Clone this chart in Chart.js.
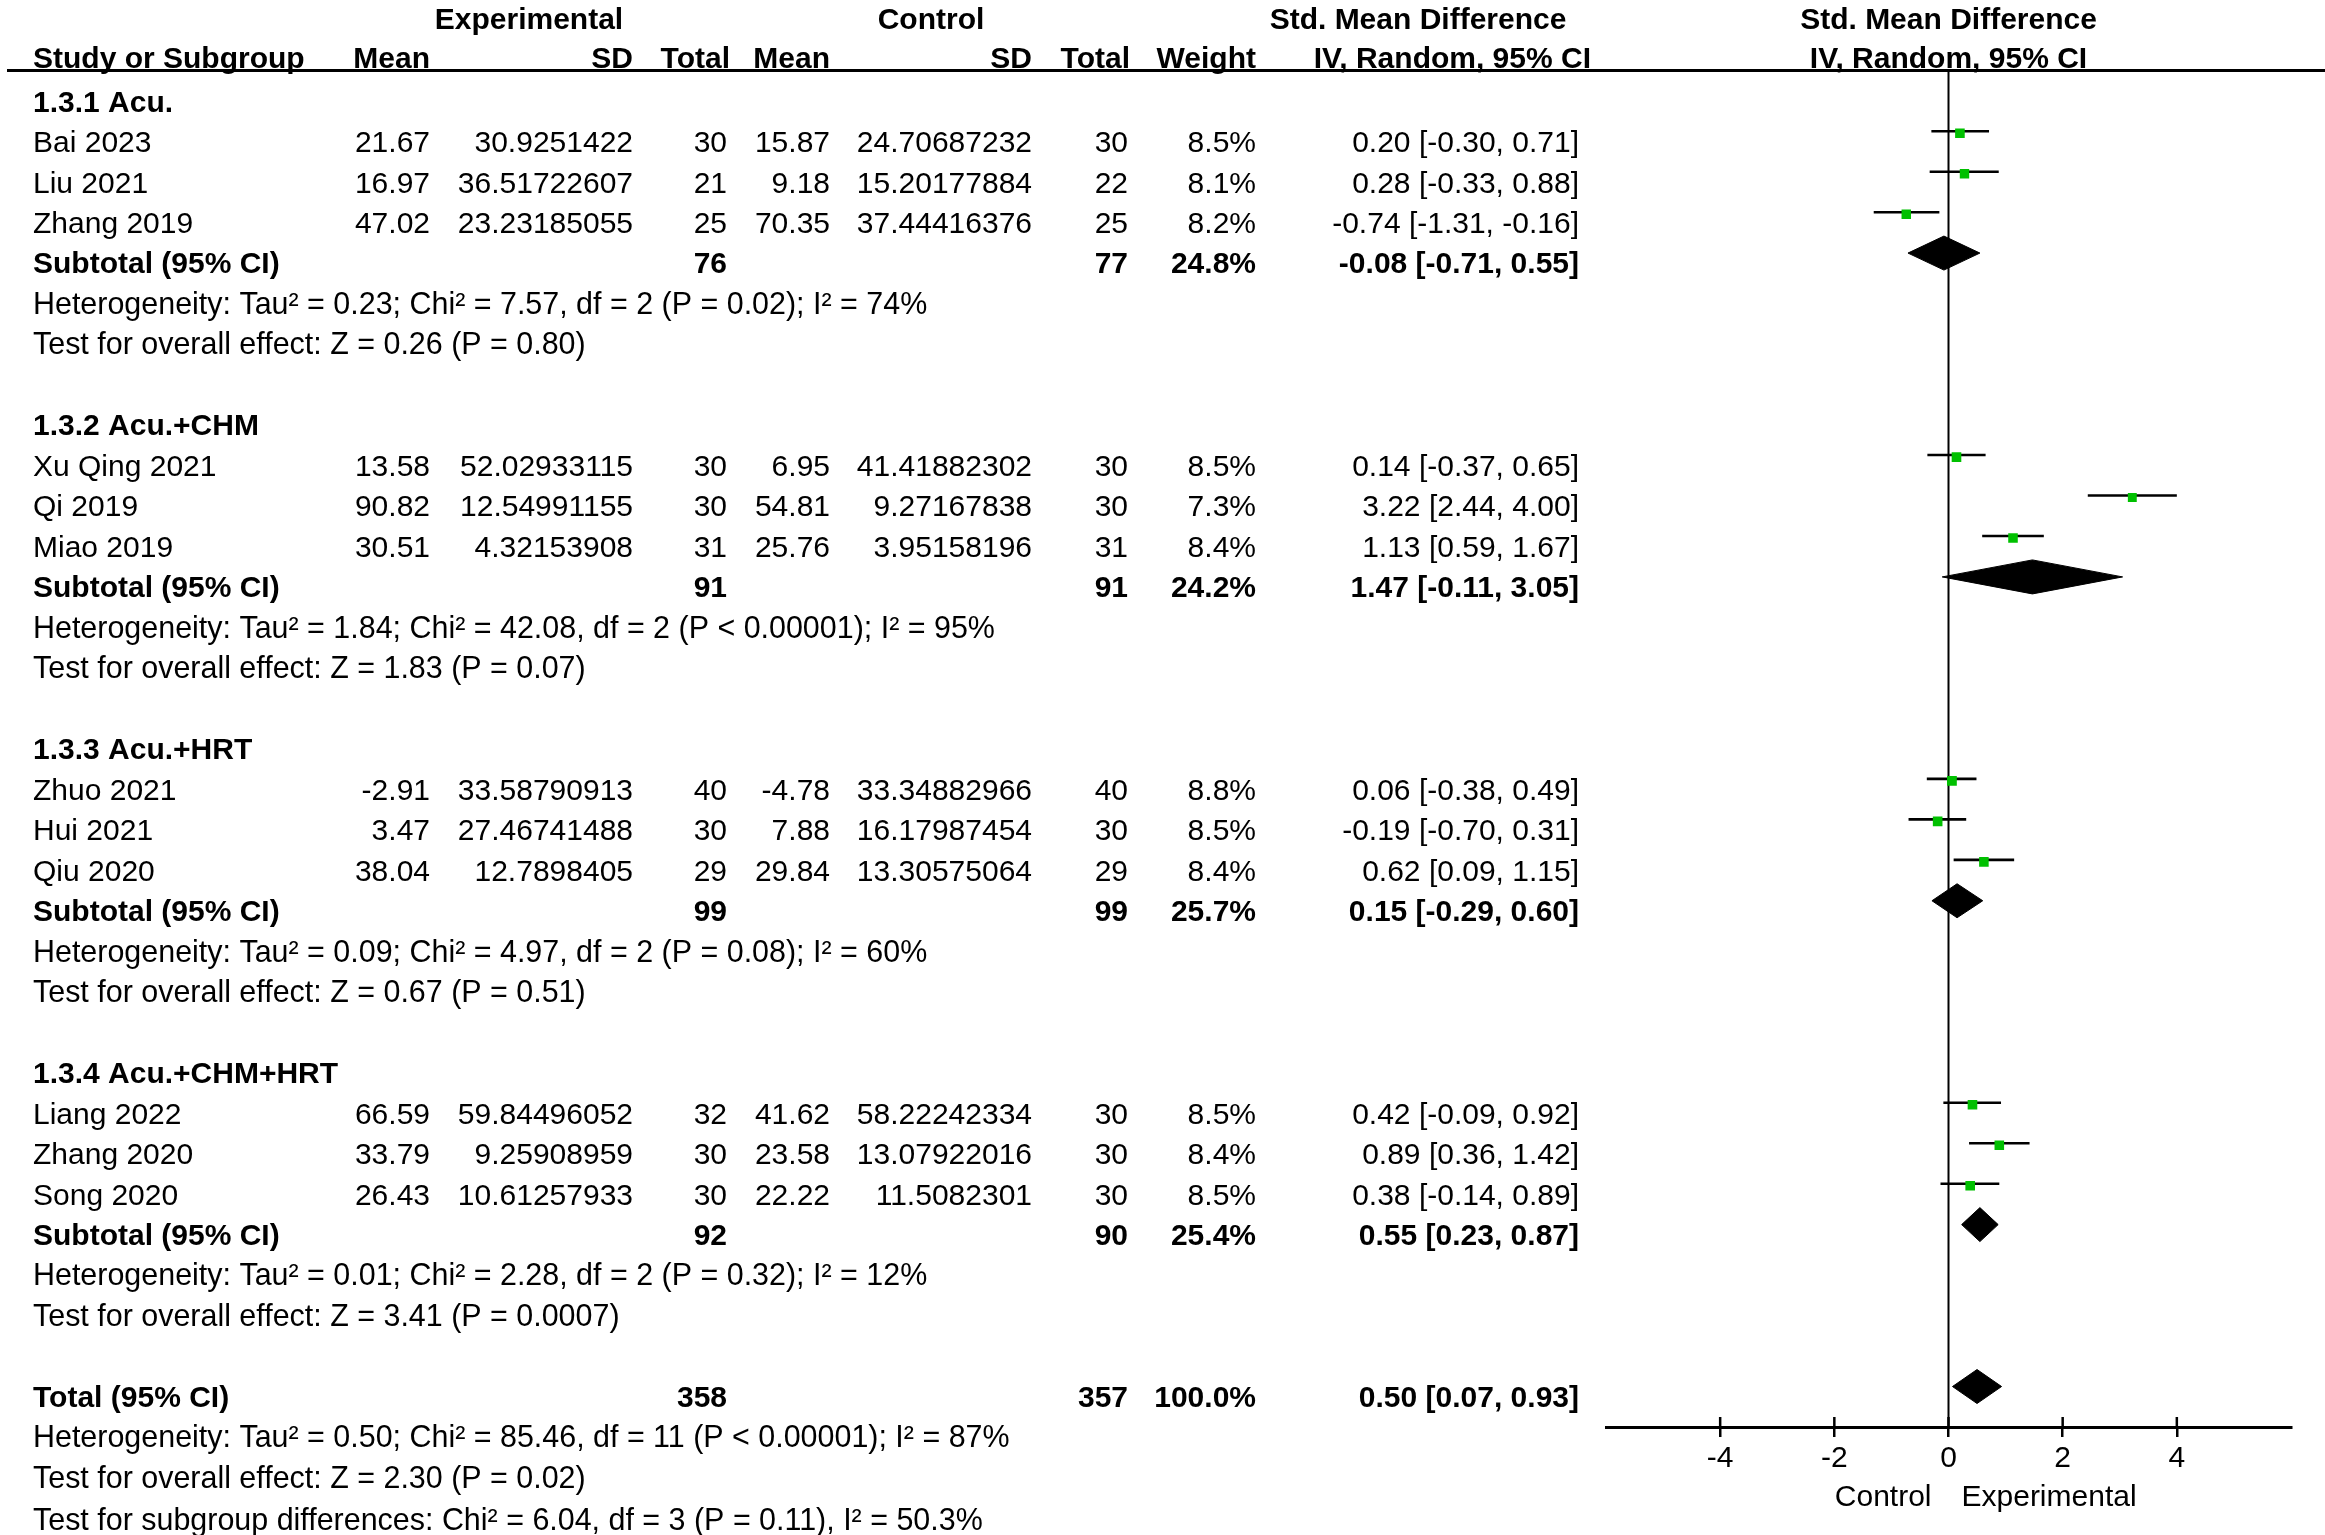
<!DOCTYPE html>
<html><head><meta charset="utf-8">
<script src="https://cdn.jsdelivr.net/npm/chart.js@4.4.1/dist/chart.umd.min.js"></script>
<style>html,body{margin:0;padding:0;background:#fff;}canvas{display:block;}</style>
</head><body>
<canvas id="c" width="2325" height="1535"></canvas>
<script>
// ---------- DATA ----------
const studyNames = ['Bai 2023','Liu 2021','Zhang 2019','Xu Qing 2021','Qi 2019','Miao 2019','Zhuo 2021','Hui 2021','Qiu 2020','Liang 2022','Zhang 2020','Song 2020'];
const studyGroup = [0,0,0,1,1,1,2,2,2,3,3,3];
const expMean = [21.67,16.97,47.02,13.58,90.82,30.51,-2.91,3.47,38.04,66.59,33.79,26.43];
const expSD = ['30.9251422','36.51722607','23.23185055','52.02933115','12.54991155','4.32153908','33.58790913','27.46741488','12.7898405','59.84496052','9.25908959','10.61257933'];
const expN = [30,21,25,30,30,31,40,30,29,32,30,30];
const ctlMean = [15.87,9.18,70.35,6.95,54.81,25.76,-4.78,7.88,29.84,41.62,23.58,22.22];
const ctlSD = ['24.70687232','15.20177884','37.44416376','41.41882302','9.27167838','3.95158196','33.34882966','16.17987454','13.30575064','58.22242334','13.07922016','11.5082301'];
const ctlN = [30,22,25,30,30,31,40,30,29,30,30,30];
const weight = [8.5,8.1,8.2,8.5,7.3,8.4,8.8,8.5,8.4,8.5,8.4,8.5];
const smd = [0.20,0.28,-0.74,0.14,3.22,1.13,0.06,-0.19,0.62,0.42,0.89,0.38];
const smdLo = [-0.30,-0.33,-1.31,-0.37,2.44,0.59,-0.38,-0.70,0.09,-0.09,0.36,-0.14];
const smdHi = [0.71,0.88,-0.16,0.65,4.00,1.67,0.49,0.31,1.15,0.92,1.42,0.89];

const groupNames = ['1.3.1 Acu.','1.3.2 Acu.+CHM','1.3.3 Acu.+HRT','1.3.4 Acu.+CHM+HRT'];
const groupExpN = [76,91,99,92];
const groupCtlN = [77,91,99,90];
const groupWeight = [24.8,24.2,25.7,25.4];
const groupEst = [-0.08,1.47,0.15,0.55];
const groupLo = [-0.71,-0.11,-0.29,0.23];
const groupHi = [0.55,3.05,0.60,0.87];
const groupHet = [
 'Heterogeneity: Tau² = 0.23; Chi² = 7.57, df = 2 (P = 0.02); I² = 74%',
 'Heterogeneity: Tau² = 1.84; Chi² = 42.08, df = 2 (P < 0.00001); I² = 95%',
 'Heterogeneity: Tau² = 0.09; Chi² = 4.97, df = 2 (P = 0.08); I² = 60%',
 'Heterogeneity: Tau² = 0.01; Chi² = 2.28, df = 2 (P = 0.32); I² = 12%'];
const groupTest = [
 'Test for overall effect: Z = 0.26 (P = 0.80)',
 'Test for overall effect: Z = 1.83 (P = 0.07)',
 'Test for overall effect: Z = 0.67 (P = 0.51)',
 'Test for overall effect: Z = 3.41 (P = 0.0007)'];

const totalExpN = 358, totalCtlN = 357, totalWeight = 100.0;
const totalEst = 0.50, totalLo = 0.07, totalHi = 0.93;
const totalHet = 'Heterogeneity: Tau² = 0.50; Chi² = 85.46, df = 11 (P < 0.00001); I² = 87%';
const totalTest = 'Test for overall effect: Z = 2.30 (P = 0.02)';
const subgroupTest = 'Test for subgroup differences: Chi² = 6.04, df = 3 (P = 0.11), I² = 50.3%';

const xTicks = [-4,-2,0,2,4];
const xMin = -6, xMax = 6;
const favoursLeft = 'Control', favoursRight = 'Experimental';

// ---------- LAYOUT (row units) ----------
const ROW_PER_GROUP = 8;
const studyRow = i => { const g = studyGroup[i]; const j = studyGroup.slice(0,i).filter(v=>v===g).length; return g*ROW_PER_GROUP + 1 + j; };
const groupRow = g => g*ROW_PER_GROUP + 4;
const totalRow = groupNames.length*ROW_PER_GROUP;
const yTop = -0.75, yBottom = 32.76;
const MARK_OFF = -0.25, DIA_H = 0.42;

const FONT = '"Liberation Sans", Arial, Helvetica, sans-serif';
const FS = 30, FS_NOTE = 30.45;

// ---------- DATASETS ----------
const datasets = [];
datasets.push({ // squares
  data: smd.map((v,i)=>({x:v, y:studyRow(i)+MARK_OFF+0.05})),
  pointStyle:'rect', pointRadius: weight.map(w=>6.8*Math.sqrt(w/8.5)), pointHoverRadius: weight.map(w=>6.8*Math.sqrt(w/8.5)),
  backgroundColor:'#00c000', borderWidth:0, showLine:false, order:0
});
smd.forEach((v,i)=>{
  datasets.push({data:[{x:smdLo[i],y:studyRow(i)+MARK_OFF},{x:smdHi[i],y:studyRow(i)+MARK_OFF}],
    showLine:true, borderColor:'#000', borderWidth:2.6, pointRadius:0, order:2});
});
const diamond = (lo,est,hi,k)=>{ const c=k+MARK_OFF+0.01; return [{x:lo,y:c},{x:est,y:c-DIA_H},{x:hi,y:c},{x:est,y:c+DIA_H},{x:lo,y:c}]; };
groupEst.forEach((v,g)=>{
  datasets.push({data:diamond(groupLo[g],v,groupHi[g],groupRow(g)), showLine:true, fill:'shape',
    backgroundColor:'#000', borderColor:'#000', borderWidth:1, pointRadius:0, tension:0, order:1});
});
datasets.push({data:diamond(totalLo,totalEst,totalHi,totalRow), showLine:true, fill:'shape',
  backgroundColor:'#000', borderColor:'#000', borderWidth:1, pointRadius:0, tension:0, order:1});
datasets.push({data:[{x:0,y:yTop},{x:0,y:yBottom}], showLine:true, borderColor:'#000', borderWidth:2, pointRadius:0, order:3});

// ---------- TABLE TEXT PLUGIN ----------
const fmt2 = v => v.toFixed(2);
const ciText = (e,l,h) => fmt2(e)+' ['+fmt2(l)+', '+fmt2(h)+']';
const tablePlugin = {
  id:'table',
  afterDraw(chart){
    const ctx = chart.ctx, ys = chart.scales.y, xs = chart.scales.x;
    const Y = k => ys.getPixelForValue(k) + 10.7; // baseline
    const txt = (s,x,k,align,bold,size)=>{ ctx.font=(bold?'bold ':'')+(size||FS)+'px '+FONT; ctx.textAlign=align; ctx.fillText(s,x,Y(k)); };
    ctx.save();
    ctx.fillStyle='#000'; ctx.textBaseline='alphabetic';
    // header
    const h1=-2.05, h2=-1.07;
    txt('Experimental',529,h1,'center',true);
    txt('Control',931,h1,'center',true);
    txt('Std. Mean Difference',1418,h1,'center',true);
    txt('Std. Mean Difference',xs.getPixelForValue(0),h1,'center',true);
    txt('Study or Subgroup',33,h2,'left',true);
    txt('Mean',430,h2,'right',true);
    txt('SD',633,h2,'right',true);
    txt('Total',730,h2,'right',true);
    txt('Mean',830,h2,'right',true);
    txt('SD',1032,h2,'right',true);
    txt('Total',1130,h2,'right',true);
    txt('Weight',1256,h2,'right',true);
    txt('IV, Random, 95% CI',1591,h2,'right',true);
    txt('IV, Random, 95% CI',xs.getPixelForValue(0),h2,'center',true);
    // header underline
    ctx.strokeStyle='#000'; ctx.lineWidth=3;
    ctx.beginPath(); ctx.moveTo(7,ys.getPixelForValue(yTop)); ctx.lineTo(2325,ys.getPixelForValue(yTop)); ctx.stroke();
    // groups
    groupNames.forEach((gn,g)=>{
      const b = g*ROW_PER_GROUP;
      txt(gn,33,b,'left',true);
      const gr = groupRow(g);
      txt('Subtotal (95% CI)',33,gr,'left',true);
      txt(String(groupExpN[g]),727,gr,'right',true);
      txt(String(groupCtlN[g]),1128,gr,'right',true);
      txt(groupWeight[g].toFixed(1)+'%',1256,gr,'right',true);
      txt(ciText(groupEst[g],groupLo[g],groupHi[g]),1579,gr,'right',true);
      txt(groupHet[g],33,gr+1,'left',false,FS_NOTE);
      txt(groupTest[g],33,gr+2,'left',false,FS_NOTE);
    });
    studyNames.forEach((n,i)=>{
      const k = studyRow(i);
      txt(n,33,k,'left',false);
      txt(fmt2(expMean[i]),430,k,'right',false);
      txt(expSD[i],633,k,'right',false);
      txt(String(expN[i]),727,k,'right',false);
      txt(fmt2(ctlMean[i]),830,k,'right',false);
      txt(ctlSD[i],1032,k,'right',false);
      txt(String(ctlN[i]),1128,k,'right',false);
      txt(weight[i].toFixed(1)+'%',1256,k,'right',false);
      txt(ciText(smd[i],smdLo[i],smdHi[i]),1579,k,'right',false);
    });
    txt('Total (95% CI)',33,totalRow,'left',true);
    txt(String(totalExpN),727,totalRow,'right',true);
    txt(String(totalCtlN),1128,totalRow,'right',true);
    txt(totalWeight.toFixed(1)+'%',1256,totalRow,'right',true);
    txt(ciText(totalEst,totalLo,totalHi),1579,totalRow,'right',true);
    txt(totalHet,33,totalRow+1,'left',false,FS_NOTE);
    txt(totalTest,33,totalRow+2,'left',false,FS_NOTE);
    txt(subgroupTest,33,totalRow+3.05,'left',false,FS_NOTE);
    // upward part of axis ticks
    const ab = chart.chartArea.bottom;
    ctx.lineWidth=2.5;
    xTicks.forEach(v=>{ const px=xs.getPixelForValue(v); ctx.beginPath(); ctx.moveTo(px,ab-10); ctx.lineTo(px,ab); ctx.stroke(); });
    // favours labels
    ctx.font=FS+'px '+FONT;
    const z = xs.getPixelForValue(0), fy = ab + 79;
    ctx.textAlign='right'; ctx.fillText(favoursLeft, z-17, fy);
    ctx.textAlign='left'; ctx.fillText(favoursRight, z+13, fy);
    ctx.restore();
  }
};

new Chart(document.getElementById('c'), {
  type:'scatter',
  data:{datasets},
  options:{
    responsive:false, animation:false, devicePixelRatio:1,
    layout:{padding:{left:1606, right:34, top:70.5, bottom:48}},
    plugins:{legend:{display:false}, tooltip:{enabled:false}},
    scales:{
      x:{type:'linear', min:xMin, max:xMax, position:'bottom',
        border:{display:true, color:'#000', width:3},
        grid:{drawOnChartArea:false, drawTicks:true, tickLength:10, color:'#000', lineWidth:2.5},
        ticks:{color:'#000', font:{family:FONT, size:FS}, padding:4},
        afterBuildTicks:s=>{ s.ticks = xTicks.map(v=>({value:v})); },
        afterFit:s=>{ s.height = 60; }
      },
      y:{type:'linear', reverse:true, min:yTop, max:yBottom, display:false}
    }
  },
  plugins:[tablePlugin]
});
</script>
</body></html>
